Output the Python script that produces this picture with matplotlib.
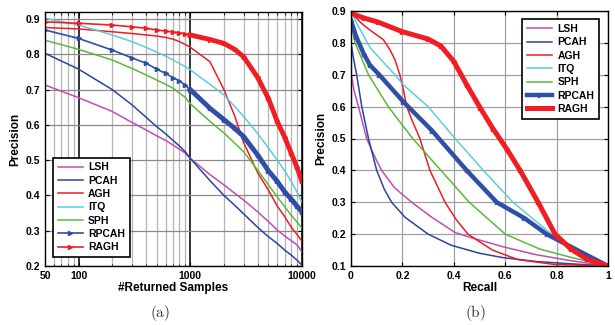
import numpy as np
import matplotlib
matplotlib.use('Agg')
import matplotlib.pyplot as plt

plt.rcParams['font.family'] = ['Liberation Sans', 'DejaVu Sans']
plt.rcParams['font.weight'] = 'bold'
plt.rcParams['mathtext.fontset'] = 'cm'

# ---- (a) precision vs number of returned samples ----
muestras = [50, 100, 200, 300, 400, 500, 600, 700, 800, 900, 1000,
            1500, 2000, 2500, 3000, 4000, 5000, 6000, 7000, 8000, 9000, 10000]
lsh_a   = [0.713, 0.677, 0.638, 0.607, 0.586, 0.569, 0.556, 0.543, 0.531, 0.52, 0.505,
           0.459, 0.43, 0.406, 0.387, 0.354, 0.326, 0.302, 0.285, 0.272, 0.26, 0.24]
pcah_a  = [0.803, 0.758, 0.70, 0.657, 0.622, 0.595, 0.575, 0.556, 0.54, 0.524, 0.505,
           0.442, 0.40, 0.372, 0.348, 0.31, 0.283, 0.264, 0.245, 0.231, 0.217, 0.202]
agh_a   = [0.876, 0.872, 0.864, 0.859, 0.855, 0.852, 0.848, 0.843, 0.836, 0.828, 0.82,
           0.779, 0.70, 0.625, 0.55, 0.465, 0.415, 0.37, 0.34, 0.31, 0.29, 0.27]
itq_a   = [0.902, 0.883, 0.855, 0.836, 0.82, 0.806, 0.795, 0.784, 0.774, 0.765, 0.756,
           0.715, 0.685, 0.652, 0.624, 0.576, 0.535, 0.50, 0.47, 0.44, 0.41, 0.38]
sph_a   = [0.84, 0.814, 0.784, 0.76, 0.742, 0.727, 0.715, 0.704, 0.69, 0.678, 0.66,
           0.61, 0.577, 0.548, 0.524, 0.472, 0.43, 0.396, 0.368, 0.344, 0.325, 0.307]
rpcah_a = [0.869, 0.845, 0.812, 0.79, 0.775, 0.758, 0.746, 0.734, 0.725, 0.712, 0.70,
           0.647, 0.615, 0.59, 0.567, 0.515, 0.47, 0.44, 0.41, 0.39, 0.37, 0.353]
ragh_a  = [0.892, 0.888, 0.883, 0.878, 0.874, 0.869, 0.866, 0.863, 0.861, 0.858, 0.855,
           0.842, 0.831, 0.814, 0.793, 0.735, 0.675, 0.61, 0.565, 0.52, 0.48, 0.44]

# ---- (b) precision vs recall ----
lsh_r   = [0.0, 0.012, 0.029, 0.045, 0.061, 0.08, 0.10, 0.119, 0.17, 0.236, 0.314, 0.405,
           0.463, 0.593, 0.723, 0.852, 1.0]
lsh_p   = [0.705, 0.65, 0.6, 0.55, 0.5, 0.465, 0.43, 0.4, 0.345, 0.3, 0.253, 0.205,
           0.19, 0.16, 0.135, 0.117, 0.1]
pcah_r  = [0.0, 0.01, 0.022, 0.042, 0.068, 0.10, 0.13, 0.158, 0.21, 0.30, 0.39, 0.50,
           0.593, 0.723, 0.852, 1.0]
pcah_p  = [0.8, 0.75, 0.7, 0.6, 0.5, 0.4, 0.34, 0.3, 0.253, 0.2, 0.165, 0.14,
           0.126, 0.114, 0.107, 0.1]
agh_r   = [0.009, 0.04, 0.074, 0.126, 0.152, 0.171, 0.19, 0.204, 0.217, 0.236, 0.268, 0.307,
           0.366, 0.41, 0.455, 0.55, 0.65, 0.79, 1.0]
agh_p   = [0.887, 0.862, 0.84, 0.81, 0.778, 0.747, 0.70, 0.652, 0.60, 0.56, 0.5, 0.4,
           0.3, 0.245, 0.2, 0.15, 0.12, 0.105, 0.1]
itq_r   = [0.01, 0.074, 0.171, 0.204, 0.30, 0.333, 0.405, 0.515, 0.63, 0.78, 0.89, 1.0]
itq_p   = [0.88, 0.785, 0.70, 0.668, 0.60, 0.569, 0.5, 0.4, 0.3, 0.2, 0.145, 0.1]
sph_r   = [0.005, 0.016, 0.068, 0.145, 0.24, 0.35, 0.46, 0.6, 0.735, 0.856, 1.0]
sph_p   = [0.84, 0.8, 0.7, 0.6, 0.5, 0.4, 0.3, 0.2, 0.153, 0.127, 0.1]
rpcah_r = [0.0, 0.02, 0.05, 0.074, 0.11, 0.204, 0.315, 0.45, 0.567, 0.675, 0.761, 0.873, 1.0]
rpcah_p = [0.87, 0.82, 0.765, 0.73, 0.70, 0.615, 0.525, 0.4, 0.3, 0.25, 0.2, 0.153, 0.1]
ragh_r  = [0.0, 0.05, 0.106, 0.2, 0.30, 0.35, 0.40, 0.45, 0.502, 0.553, 0.607, 0.658,
           0.728, 0.794, 0.856, 0.917, 0.98, 1.0]
ragh_p  = [0.893, 0.878, 0.865, 0.835, 0.812, 0.79, 0.742, 0.669, 0.597, 0.53, 0.466, 0.40,
           0.30, 0.20, 0.153, 0.122, 0.105, 0.1]

etiquetas = ['LSH', 'PCAH', 'AGH', 'ITQ', 'SPH', 'RPCAH', 'RAGH']
colores = {'LSH': '#c04cb4', 'PCAH': '#2c44a0', 'AGH': '#ee1c24', 'ITQ': '#5ccbe0',
           'SPH': '#5cb83c', 'RPCAH': '#2f4ea8', 'RAGH': '#f01e22'}

fig = plt.figure(figsize=(6.15, 3.25), dpi=100)
ax1 = fig.add_axes([45/615, 1-266/325, 257/615, 254/325])
ax2 = fig.add_axes([351/615, 1-266/325, 257/615, 255/325])

def estilo(ax):
    ax.tick_params(direction='in', top=True, right=True, labelsize=7.5, length=3, width=0.8)
    ax.tick_params(which='minor', direction='in', top=True, right=True, length=1.8, width=0.6)
    for s in ax.spines.values():
        s.set_linewidth(1.0)
    ax.set_axisbelow(True)

def leyenda(ax, **kw):
    ley = ax.legend(fontsize=7.5, handlelength=2.4, labelspacing=0.32, borderpad=0.45,
                    handletextpad=0.5, fancybox=False, edgecolor='black', framealpha=1,
                    numpoints=1, **kw)
    ley.get_frame().set_linewidth(1.2)

# panel (a)
x = np.array(muestras)
series_a = [lsh_a, pcah_a, agh_a, itq_a, sph_a]
for nombre, y in zip(etiquetas[:5], series_a):
    ax1.plot(x, y, color=colores[nombre], lw=1.1, label=nombre)
k = muestras.index(1000)
for nombre, y in [('RPCAH', rpcah_a), ('RAGH', ragh_a)]:
    ax1.plot(x, y, color=colores[nombre], lw=1.2, marker='>', ms=3, label=nombre)
    ax1.plot(x[k:], y[k:], color=colores[nombre], lw=3.5)

ax1.set_xscale('log')
ax1.set_xlim(50, 10000)
ax1.set_ylim(0.2, 0.92)
ax1.set_xticks([50, 100, 1000, 10000])
ax1.set_xticklabels(['50', '100', '1000', '10000'])
ax1.set_yticks(np.arange(0.2, 0.91, 0.1))
ax1.set_yticklabels(['%.1f' % v for v in np.arange(0.2, 0.91, 0.1)])
ax1.grid(True, which='major', axis='x', color='#222222', lw=1.3)
ax1.grid(True, which='minor', axis='x', color='#b4b4b4', lw=0.9)
ax1.grid(True, which='major', axis='y', color='#8a8a8a', lw=0.9)
estilo(ax1)
ax1.set_xlabel('#Returned Samples', fontsize=8.5, fontweight='bold', labelpad=1)
ax1.set_ylabel('Precision', fontsize=8.5, fontweight='bold', labelpad=3)
leyenda(ax1, loc='lower left', bbox_to_anchor=(0.012, 0.015))

# panel (b)
pares = [(lsh_r, lsh_p), (pcah_r, pcah_p), (agh_r, agh_p), (itq_r, itq_p), (sph_r, sph_p)]
for nombre, (r, p) in zip(etiquetas[:5], pares):
    ax2.plot(r, p, color=colores[nombre], lw=1.1, label=nombre)
ax2.plot(rpcah_r, rpcah_p, color=colores['RPCAH'], lw=3.2, marker='>', ms=3,
         label='RPCAH')
ax2.plot(ragh_r, ragh_p, color=colores['RAGH'], lw=3.6, marker='>', ms=3, label='RAGH')

ax2.set_xlim(0, 1)
ax2.set_ylim(0.1, 0.9)
ax2.set_xticks(np.arange(0, 1.01, 0.2))
ax2.set_xticklabels(['0', '0.2', '0.4', '0.6', '0.8', '1'])
ax2.set_yticks(np.arange(0.1, 0.91, 0.1))
ax2.set_yticklabels(['%.1f' % v for v in np.arange(0.1, 0.91, 0.1)])
ax2.grid(True, color='#a0a0a0', lw=0.9)
estilo(ax2)
ax2.set_xlabel('Recall', fontsize=8.5, fontweight='bold', labelpad=1)
ax2.set_ylabel('Precision', fontsize=8.5, fontweight='bold', labelpad=3)
leyenda(ax2, loc='upper right', bbox_to_anchor=(0.985, 0.988))

fig.text(160/615, 1-313/325, r'$\mathrm{(a)}$', ha='center', va='center', fontsize=11,
         color='#333333')
fig.text(475/615, 1-313/325, r'$\mathrm{(b)}$', ha='center', va='center', fontsize=11,
         color='#333333')

fig.savefig('out.png', dpi=100)
